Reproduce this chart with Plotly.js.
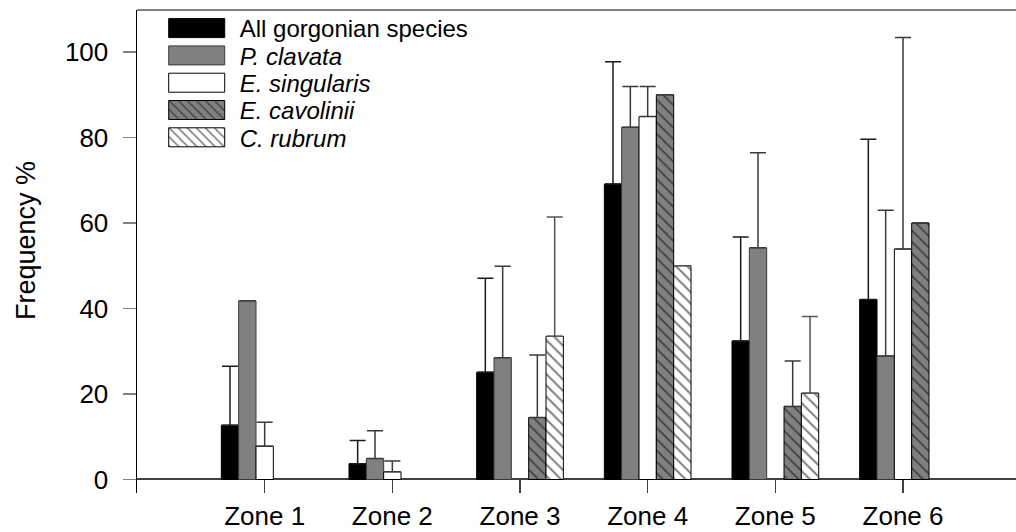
<!DOCTYPE html>
<html>
<head>
<meta charset="utf-8">
<script src="https://cdn.plot.ly/plotly-3.0.1.min.js"></script>
<style>html,body{margin:0;padding:0;background:#fff;}#chart{width:1016px;height:532px;}</style>
</head>
<body>
<div id="chart"></div>
<script>
// ---- data ----
var zones = ["Zone 1", "Zone 2", "Zone 3", "Zone 4", "Zone 5", "Zone 6"];
var seriesNames = ["All gorgonian species", "<i>P. clavata</i>", "<i>E. singularis</i>", "<i>E. cavolinii</i>", "<i>C. rubrum</i>"];

var allSpecies      = [12.7, 3.7, 25.1, 69.1, 32.4, 42.1];
var allSpeciesErr   = [13.8, 5.4, 22.0, 28.6, 24.3, 37.5];

var pClavata        = [41.8, 4.9, 28.5, 82.4, 54.2, 28.9];
var pClavataErr     = [null, 6.5, 21.4, 9.5, 22.2, 34.1];

var eSingularis     = [7.8, 1.8, null, 84.9, null, 53.9];
var eSingularisErr  = [5.6, 2.5, null, 7.0, null, 49.5];

var eCavolinii      = [null, null, 14.5, 90.0, 17.1, 60.0];
var eCavoliniiErr   = [null, null, 14.6, null, 10.6, null];

var cRubrum         = [null, null, 33.5, 50.0, 20.2, null];
var cRubrumErr      = [null, null, 27.9, null, 17.9, null];

var yTicks = [0, 20, 40, 60, 80, 100];
var yTitle = "Frequency %";

// ---- styling ----
var FONT = "Liberation Sans, Arial, sans-serif";
function errStyle(arr, col) {
  return {type: "data", array: arr, arrayminus: arr.map(function(){return 0;}), symmetric: false,
          visible: true, color: col, thickness: 1.5, width: 8};
}
var styles = [
  {color: "#000000", line: {color: "#000000", width: 1}},
  {color: "#808080", line: {color: "#3a3a3a", width: 1}},
  {color: "#ffffff", line: {color: "#000000", width: 1}},
  {color: "#808080", line: {color: "#000000", width: 1},
   pattern: {shape: "\\", fgcolor: "#000000", bgcolor: "#808080", size: 8, solidity: 0.22, fillmode: "overlay"}},
  {color: "#ffffff", line: {color: "#000000", width: 1},
   pattern: {shape: "\\", fgcolor: "#000000", bgcolor: "#ffffff", size: 8, solidity: 0.25, fillmode: "overlay"}}
];
var values = [allSpecies, pClavata, eSingularis, eCavolinii, cRubrum];
var errs = [allSpeciesErr, pClavataErr, eSingularisErr, eCavoliniiErr, cRubrumErr];
var errCols = ["#1a1a1a", "#3a3a3a", "#3a3a3a", "#3a3a3a", "#555555"];
var legendIds = ["legend", "legend2", "legend3", "legend4", "legend5"];

var traces = values.map(function(v, i) {
  return {type: "bar", x: zones, y: v, name: seriesNames[i], marker: styles[i],
          error_y: errStyle(errs[i], errCols[i]), legend: legendIds[i], hoverinfo: "skip"};
});

var plotTop = 10, plotH = 483;
var rowCenters = [28.5, 55.8, 83.1, 110.4, 137.7];
var layout = {
  width: 1016, height: 532,
  margin: {l: 137, r: 0, t: 10, b: 39, pad: 0},
  paper_bgcolor: "#ffffff", plot_bgcolor: "#ffffff",
  barmode: "group", bargap: 0.321, bargroupgap: 0,
  font: {family: FONT, color: "#000000"},
  xaxis: {
    type: "category", range: [-1, 5.885], fixedrange: true,
    showline: false, showgrid: false, zeroline: false,
    ticks: "inside", ticklen: 13, tickwidth: 1.5, tickcolor: "#404040",
    tickfont: {family: FONT, size: 26, color: "#000000"}, ticklabelstandoff: 5
  },
  yaxis: {
    range: [-3.16, 109.82], fixedrange: true,
    tickvals: yTicks, ticktext: yTicks.map(String),
    showline: true, linecolor: "#000000", linewidth: 1.5,
    showgrid: false,
    zeroline: true, zerolinecolor: "#404040", zerolinewidth: 2,
    ticks: "outside", ticklen: 13, tickwidth: 1.5, tickcolor: "#808080",
    tickfont: {family: FONT, size: 26, color: "#000000"}, ticklabelstandoff: 9
  },
  annotations: [
    {text: yTitle, textangle: -90, showarrow: false,
     xref: "paper", yref: "paper", x: 0, xanchor: "center", xshift: -111,
     y: 1 - (241 - plotTop) / plotH, yanchor: "middle",
     font: {family: FONT, size: 27, color: "#000000"}}
  ],
  shapes: [
    {type: "line", xref: "paper", yref: "paper", x0: 0, x1: 1, y0: 1, y1: 1,
     line: {color: "#808080", width: 2}}
  ],
  showlegend: true
};
legendIds.forEach(function(id, i) {
  layout[id] = {
    x: 0.019, xanchor: "left",
    y: 1 - (rowCenters[i] - plotTop) / plotH, yanchor: "middle",
    bgcolor: "rgba(0,0,0,0)", borderwidth: 0,
    font: {family: FONT, size: 24, color: "#000000"},
    itemwidth: 76, itemclick: false, itemdoubleclick: false
  };
});

Plotly.newPlot("chart", traces, layout, {staticPlot: true, displayModeBar: false, responsive: false}).then(function(gd) {
  // enlarge legend swatches to the reference's wide rectangles
  var paths = gd.querySelectorAll(".legendpoints path");
  paths.forEach(function(p) { p.setAttribute("d", "M28,9.5H-28V-9.5H28Z"); });
});
</script>
</body>
</html>
